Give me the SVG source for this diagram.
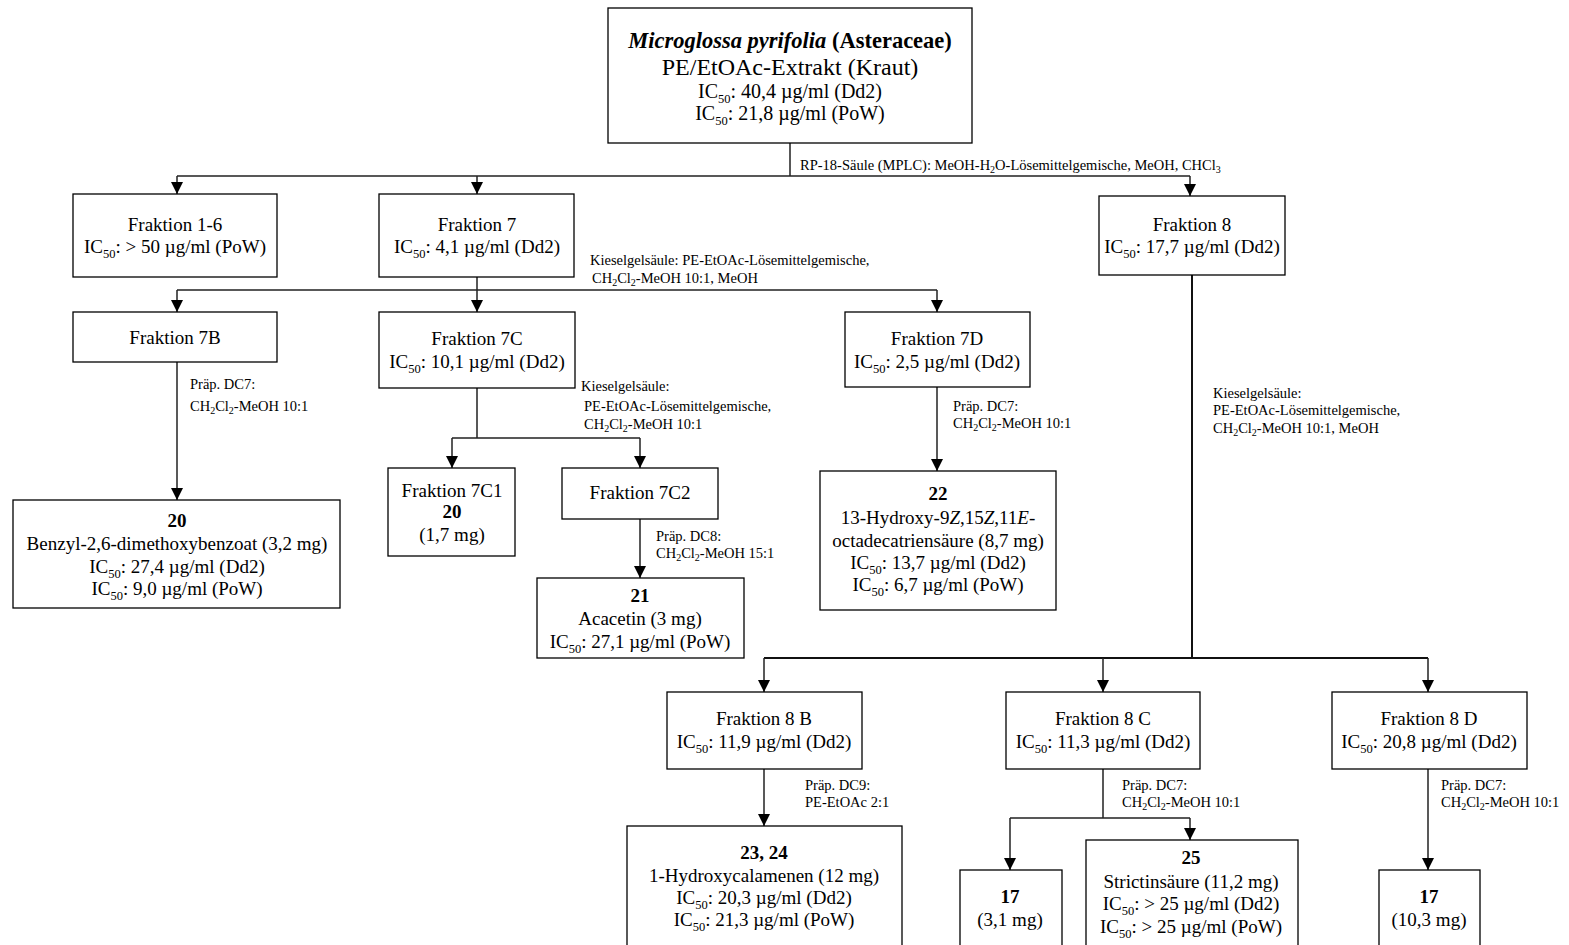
<svg xmlns="http://www.w3.org/2000/svg" width="1569" height="945" viewBox="0 0 1569 945">
<style>
.bx{fill:#fff;stroke:#000;stroke-width:1.3}
.t{font-family:"Liberation Serif","Times New Roman",serif;font-size:19px;text-anchor:middle;fill:#000}
.h1{font-size:22.5px}
.h2{font-size:24px}
.h3{font-size:20px}
.b{font-weight:bold}
.l{font-family:"Liberation Serif","Times New Roman",serif;font-size:14.5px;fill:#000}
.sb{font-size:12.5px}
.ls{font-size:10px}
.c{fill:none;stroke:#222;stroke-width:1.5}
.c2{fill:none;stroke:#111;stroke-width:2}
</style>
<defs>
<marker id="ah" markerUnits="userSpaceOnUse" markerWidth="12" markerHeight="12" refX="12" refY="6" orient="auto">
<path d="M0,0 L12,6 L0,12 z" fill="#000"/>
</marker>
</defs>
<g id="connectors">
<path class="c" d="M790,143 V176 M177,176 H1190" />
<path class="c" d="M177,176 V194" marker-end="url(#ah)"/>
<path class="c" d="M477,176 V194" marker-end="url(#ah)"/>
<path class="c" d="M1190,176 V196" marker-end="url(#ah)"/>
<text class="l" x="800" y="170">RP-18-Säule (MPLC): MeOH-H<tspan class="ls" dy="3">2</tspan><tspan dy="-3">O-Lösemittelgemische, MeOH, CHCl</tspan><tspan class="ls" dy="3">3</tspan></text>
<path class="c" d="M477,277 V290 M177,290 H937"/>
<path class="c" d="M177,290 V312" marker-end="url(#ah)"/>
<path class="c" d="M477,290 V312" marker-end="url(#ah)"/>
<path class="c" d="M937,290 V312" marker-end="url(#ah)"/>
<text class="l" x="590" y="265">Kieselgelsäule: PE-EtOAc-Lösemittelgemische,</text>
<text class="l" x="592" y="283">CH<tspan class="ls" dy="3">2</tspan><tspan dy="-3">Cl</tspan><tspan class="ls" dy="3">2</tspan><tspan dy="-3">-MeOH 10:1, MeOH</tspan></text>
<path class="c" d="M177,362 V500" marker-end="url(#ah)"/>
<text class="l" x="190" y="389">Präp. DC7:</text>
<text class="l" x="190" y="411">CH<tspan class="ls" dy="3">2</tspan><tspan dy="-3">Cl</tspan><tspan class="ls" dy="3">2</tspan><tspan dy="-3">-MeOH 10:1</tspan></text>
<path class="c" d="M477,388 V438 M452,438 H640"/>
<path class="c" d="M452,438 V468" marker-end="url(#ah)"/>
<path class="c" d="M640,438 V468" marker-end="url(#ah)"/>
<text class="l" x="581" y="391">Kieselgelsäule:</text>
<text class="l" x="584" y="411">PE-EtOAc-Lösemittelgemische,</text>
<text class="l" x="584" y="429">CH<tspan class="ls" dy="3">2</tspan><tspan dy="-3">Cl</tspan><tspan class="ls" dy="3">2</tspan><tspan dy="-3">-MeOH 10:1</tspan></text>
<path class="c" d="M640,519 V578" marker-end="url(#ah)"/>
<text class="l" x="656" y="541">Präp. DC8:</text>
<text class="l" x="656" y="558">CH<tspan class="ls" dy="3">2</tspan><tspan dy="-3">Cl</tspan><tspan class="ls" dy="3">2</tspan><tspan dy="-3">-MeOH 15:1</tspan></text>
<path class="c" d="M937,387 V471" marker-end="url(#ah)"/>
<text class="l" x="953" y="411">Präp. DC7:</text>
<text class="l" x="953" y="428">CH<tspan class="ls" dy="3">2</tspan><tspan dy="-3">Cl</tspan><tspan class="ls" dy="3">2</tspan><tspan dy="-3">-MeOH 10:1</tspan></text>
<path class="c2" d="M1192,275 V658 M764,658 H1428"/>
<path class="c" d="M764,658 V692" marker-end="url(#ah)"/>
<path class="c" d="M1103,658 V692" marker-end="url(#ah)"/>
<path class="c" d="M1428,658 V692" marker-end="url(#ah)"/>
<text class="l" x="1213" y="398">Kieselgelsäule:</text>
<text class="l" x="1213" y="415">PE-EtOAc-Lösemittelgemische,</text>
<text class="l" x="1213" y="433">CH<tspan class="ls" dy="3">2</tspan><tspan dy="-3">Cl</tspan><tspan class="ls" dy="3">2</tspan><tspan dy="-3">-MeOH 10:1, MeOH</tspan></text>
<path class="c" d="M764,769 V826" marker-end="url(#ah)"/>
<text class="l" x="805" y="790">Präp. DC9:</text>
<text class="l" x="805" y="807">PE-EtOAc 2:1</text>
<path class="c" d="M1103,769 V818 M1010,818 H1190"/>
<path class="c" d="M1010,818 V870" marker-end="url(#ah)"/>
<path class="c" d="M1190,818 V840" marker-end="url(#ah)"/>
<text class="l" x="1122" y="790">Präp. DC7:</text>
<text class="l" x="1122" y="807">CH<tspan class="ls" dy="3">2</tspan><tspan dy="-3">Cl</tspan><tspan class="ls" dy="3">2</tspan><tspan dy="-3">-MeOH 10:1</tspan></text>
<path class="c" d="M1428,769 V870" marker-end="url(#ah)"/>
<text class="l" x="1441" y="790">Präp. DC7:</text>
<text class="l" x="1441" y="807">CH<tspan class="ls" dy="3">2</tspan><tspan dy="-3">Cl</tspan><tspan class="ls" dy="3">2</tspan><tspan dy="-3">-MeOH 10:1</tspan></text>
</g>
<g id="n-root">
<rect class="bx" x="608" y="8" width="364" height="135"/>
<text class="t h1 b" x="790" y="48"><tspan font-style="italic">Microglossa pyrifolia</tspan> (Asteraceae)</text>
<text class="t h2" x="790" y="75">PE/EtOAc-Extrakt (Kraut)</text>
<text class="t h3" x="790" y="98">IC<tspan class="sb" dy="5">50</tspan><tspan dy="-5">: 40,4 µg/ml (Dd2)</tspan></text>
<text class="t h3" x="790" y="120">IC<tspan class="sb" dy="5">50</tspan><tspan dy="-5">: 21,8 µg/ml (PoW)</tspan></text>
</g>
<g id="n-f16">
<rect class="bx" x="73" y="194" width="204" height="83"/>
<text class="t" x="175" y="231">Fraktion 1-6</text>
<text class="t" x="175" y="253">IC<tspan class="sb" dy="5">50</tspan><tspan dy="-5">: &gt; 50 µg/ml (PoW)</tspan></text>
</g>
<g id="n-f7">
<rect class="bx" x="379" y="194" width="195" height="83"/>
<text class="t" x="477" y="231">Fraktion 7</text>
<text class="t" x="477" y="253">IC<tspan class="sb" dy="5">50</tspan><tspan dy="-5">: 4,1 µg/ml (Dd2)</tspan></text>
</g>
<g id="n-f8">
<rect class="bx" x="1099" y="196" width="186" height="79"/>
<text class="t" x="1192" y="231">Fraktion 8</text>
<text class="t" x="1192" y="253">IC<tspan class="sb" dy="5">50</tspan><tspan dy="-5">: 17,7 µg/ml (Dd2)</tspan></text>
</g>
<g id="n-f7b">
<rect class="bx" x="73" y="312" width="204" height="50"/>
<text class="t" x="175" y="344">Fraktion 7B</text>
</g>
<g id="n-f7c">
<rect class="bx" x="379" y="312" width="196" height="76"/>
<text class="t" x="477" y="345">Fraktion 7C</text>
<text class="t" x="477" y="368">IC<tspan class="sb" dy="5">50</tspan><tspan dy="-5">: 10,1 µg/ml (Dd2)</tspan></text>
</g>
<g id="n-f7d">
<rect class="bx" x="845" y="312" width="185" height="75"/>
<text class="t" x="937" y="345">Fraktion 7D</text>
<text class="t" x="937" y="368">IC<tspan class="sb" dy="5">50</tspan><tspan dy="-5">: 2,5 µg/ml (Dd2)</tspan></text>
</g>
<g id="n-20">
<rect class="bx" x="13" y="500" width="327" height="108"/>
<text class="t b" x="177" y="527">20</text>
<text class="t" x="177" y="550">Benzyl-2,6-dimethoxybenzoat (3,2 mg)</text>
<text class="t" x="177" y="573">IC<tspan class="sb" dy="5">50</tspan><tspan dy="-5">: 27,4 µg/ml (Dd2)</tspan></text>
<text class="t" x="177" y="595">IC<tspan class="sb" dy="5">50</tspan><tspan dy="-5">: 9,0 µg/ml (PoW)</tspan></text>
</g>
<g id="n-f7c1">
<rect class="bx" x="388" y="468" width="127" height="88"/>
<text class="t" x="452" y="497">Fraktion 7C1</text>
<text class="t b" x="452" y="518">20</text>
<text class="t" x="452" y="541">(1,7 mg)</text>
</g>
<g id="n-f7c2">
<rect class="bx" x="562" y="468" width="156" height="51"/>
<text class="t" x="640" y="499">Fraktion 7C2</text>
</g>
<g id="n-21">
<rect class="bx" x="537" y="578" width="207" height="80"/>
<text class="t b" x="640" y="602">21</text>
<text class="t" x="640" y="625">Acacetin (3 mg)</text>
<text class="t" x="640" y="648">IC<tspan class="sb" dy="5">50</tspan><tspan dy="-5">: 27,1 µg/ml (PoW)</tspan></text>
</g>
<g id="n-22">
<rect class="bx" x="820" y="471" width="236" height="139"/>
<text class="t b" x="938" y="500">22</text>
<text class="t" x="938" y="524">13-Hydroxy-9<tspan font-style="italic">Z</tspan>,15<tspan font-style="italic">Z</tspan>,11<tspan font-style="italic">E</tspan>-</text>
<text class="t" x="938" y="547">octadecatriensäure (8,7 mg)</text>
<text class="t" x="938" y="569">IC<tspan class="sb" dy="5">50</tspan><tspan dy="-5">: 13,7 µg/ml (Dd2)</tspan></text>
<text class="t" x="938" y="591">IC<tspan class="sb" dy="5">50</tspan><tspan dy="-5">: 6,7 µg/ml (PoW)</tspan></text>
</g>
<g id="n-f8b">
<rect class="bx" x="667" y="692" width="195" height="77"/>
<text class="t" x="764" y="725">Fraktion 8 B</text>
<text class="t" x="764" y="748">IC<tspan class="sb" dy="5">50</tspan><tspan dy="-5">: 11,9 µg/ml (Dd2)</tspan></text>
</g>
<g id="n-f8c">
<rect class="bx" x="1006" y="692" width="194" height="77"/>
<text class="t" x="1103" y="725">Fraktion 8 C</text>
<text class="t" x="1103" y="748">IC<tspan class="sb" dy="5">50</tspan><tspan dy="-5">: 11,3 µg/ml (Dd2)</tspan></text>
</g>
<g id="n-f8d">
<rect class="bx" x="1332" y="692" width="195" height="77"/>
<text class="t" x="1429" y="725">Fraktion 8 D</text>
<text class="t" x="1429" y="748">IC<tspan class="sb" dy="5">50</tspan><tspan dy="-5">: 20,8 µg/ml (Dd2)</tspan></text>
</g>
<g id="n-2324">
<rect class="bx" x="627" y="826" width="275" height="130"/>
<text class="t b" x="764" y="859">23, 24</text>
<text class="t" x="764" y="882">1-Hydroxycalamenen (12 mg)</text>
<text class="t" x="764" y="904">IC<tspan class="sb" dy="5">50</tspan><tspan dy="-5">: 20,3 µg/ml (Dd2)</tspan></text>
<text class="t" x="764" y="926">IC<tspan class="sb" dy="5">50</tspan><tspan dy="-5">: 21,3 µg/ml (PoW)</tspan></text>
</g>
<g id="n-17a">
<rect class="bx" x="960" y="870" width="102" height="90"/>
<text class="t b" x="1010" y="903">17</text>
<text class="t" x="1010" y="926">(3,1 mg)</text>
</g>
<g id="n-25">
<rect class="bx" x="1086" y="840" width="212" height="120"/>
<text class="t b" x="1191" y="864">25</text>
<text class="t" x="1191" y="888">Strictinsäure (11,2 mg)</text>
<text class="t" x="1191" y="910">IC<tspan class="sb" dy="5">50</tspan><tspan dy="-5">: &gt; 25 µg/ml (Dd2)</tspan></text>
<text class="t" x="1191" y="933">IC<tspan class="sb" dy="5">50</tspan><tspan dy="-5">: &gt; 25 µg/ml (PoW)</tspan></text>
</g>
<g id="n-17b">
<rect class="bx" x="1379" y="870" width="101" height="90"/>
<text class="t b" x="1429" y="903">17</text>
<text class="t" x="1429" y="926">(10,3 mg)</text>
</g>
</svg>
